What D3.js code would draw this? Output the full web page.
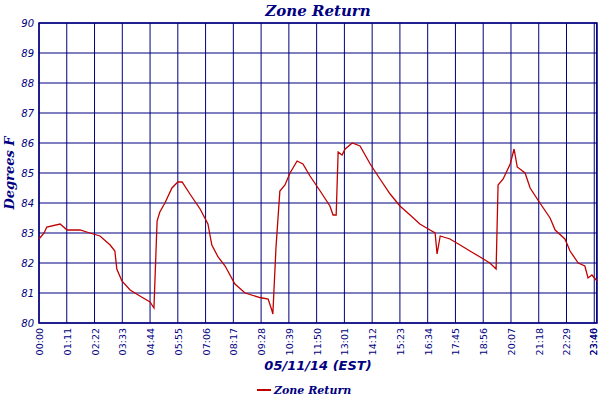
<!DOCTYPE html><html><head><meta charset="utf-8"><script src="https://cdn.jsdelivr.net/npm/d3@7"></script>
<style>body{margin:0;background:#fff}</style></head><body><svg id="c" width="600" height="400"></svg>
<script>
const minutes=[0,13,20,54,72,105,130,156,182,194,199,212,233,258,284,294,302,309,322,340,355,366,386,412,432,442,458,476,501,527,565,586,596,598,606,616,629,642,660,675,693,719,744,752,760,765,775,783,801,821,847,872,898,923,949,974,1000,1013,1018,1026,1051,1077,1102,1128,1153,1169,1174,1187,1205,1215,1223,1243,1256,1281,1307,1320,1345,1358,1379,1396,1404,1414,1427];
const temps=[82.8,83.0,83.2,83.3,83.1,83.1,83.0,82.9,82.6,82.4,81.8,81.4,81.1,80.9,80.7,80.5,83.4,83.7,84.0,84.5,84.7,84.7,84.3,83.8,83.3,82.6,82.2,81.9,81.3,81.0,80.85,80.8,80.4,80.3,82.5,84.4,84.6,85.0,85.4,85.3,84.9,84.4,83.9,83.6,83.6,85.7,85.6,85.8,86.0,85.9,85.3,84.8,84.3,83.9,83.6,83.3,83.1,83.0,82.3,82.9,82.8,82.6,82.4,82.2,82.0,81.8,84.6,84.8,85.3,85.8,85.2,85.0,84.5,84.0,83.5,83.1,82.8,82.4,82.0,81.9,81.5,81.6,81.4];
const tickMins=[0,71,142,213,284,355,426,497,568,639,710,781,852,923,994,1065,1136,1207,1278,1349,1420,1426];
const tickLabels=["00:00","01:11","02:22","03:33","04:44","05:55","07:06","08:17","09:28","10:39","11:50","13:01","14:12","15:23","16:34","17:45","18:56","20:07","21:18","22:29","23:40","23:46"];
const yTicks=[80,81,82,83,84,85,86,87,88,89,90];
const navy="#000080";
const svg=d3.select("#c");
const L=39,R=597,T=23,B=323;
const x=d3.scaleLinear().domain([0,1427]).range([L,R]);
const y=d3.scaleLinear().domain([80,90]).range([B,T]);
svg.append("g").selectAll("line.v").data(tickMins).join("line").attr("x1",d=>x(d)).attr("x2",d=>x(d)).attr("y1",T).attr("y2",B).attr("stroke",navy).attr("stroke-width",1);
svg.append("g").selectAll("line.h").data(yTicks).join("line").attr("x1",L).attr("x2",R).attr("y1",d=>y(d)).attr("y2",d=>y(d)).attr("stroke",navy).attr("stroke-width",1);
svg.append("rect").attr("x",L).attr("y",T).attr("width",R-L).attr("height",B-T).attr("fill","none").attr("stroke",navy).attr("stroke-width",1.5);
svg.append("g").selectAll("text").data(yTicks).join("text").attr("x",L-5).attr("y",d=>y(d)+4).attr("text-anchor","end").attr("font-family","DejaVu Sans").attr("font-style","italic").attr("font-size",10).attr("fill",navy).text(d=>d);
svg.append("g").selectAll("text").data(tickMins).join("text").attr("transform",(d,i)=>`translate(${Math.min(x(d)+4,597)},${B+5}) rotate(-90)`).attr("text-anchor","end").attr("font-family","DejaVu Sans").attr("font-size",9.5).attr("fill",navy).text((d,i)=>tickLabels[i]);
const data=minutes.map((m,i)=>[m,temps[i]]);
svg.append("path").datum(data).attr("d",d3.line().x(d=>x(d[0])).y(d=>y(d[1])).curve(d3.curveLinear)).attr("fill","none").attr("stroke","#c00000").attr("stroke-width",1.3);
svg.append("text").attr("x",318).attr("y",16).attr("text-anchor","middle").attr("font-family","DejaVu Serif").attr("font-weight","bold").attr("font-style","italic").attr("font-size",15).attr("fill",navy).text("Zone Return");
svg.append("text").attr("transform",`translate(14,${(T+B)/2}) rotate(-90)`).attr("text-anchor","middle").attr("font-family","DejaVu Serif").attr("font-weight","bold").attr("font-style","italic").attr("font-size",13).attr("fill",navy).text("Degrees F");
svg.append("text").attr("x",318).attr("y",370).attr("text-anchor","middle").attr("font-family","DejaVu Sans").attr("font-weight","bold").attr("font-style","italic").attr("font-size",13).attr("fill",navy).text("05/11/14 (EST)");
svg.append("line").attr("x1",257).attr("x2",271).attr("y1",390).attr("y2",390).attr("stroke","#c00000").attr("stroke-width",2);
svg.append("text").attr("x",274).attr("y",394).attr("font-family","DejaVu Serif").attr("font-weight","bold").attr("font-style","italic").attr("font-size",11).attr("fill",navy).text("Zone Return");
</script></body></html>
